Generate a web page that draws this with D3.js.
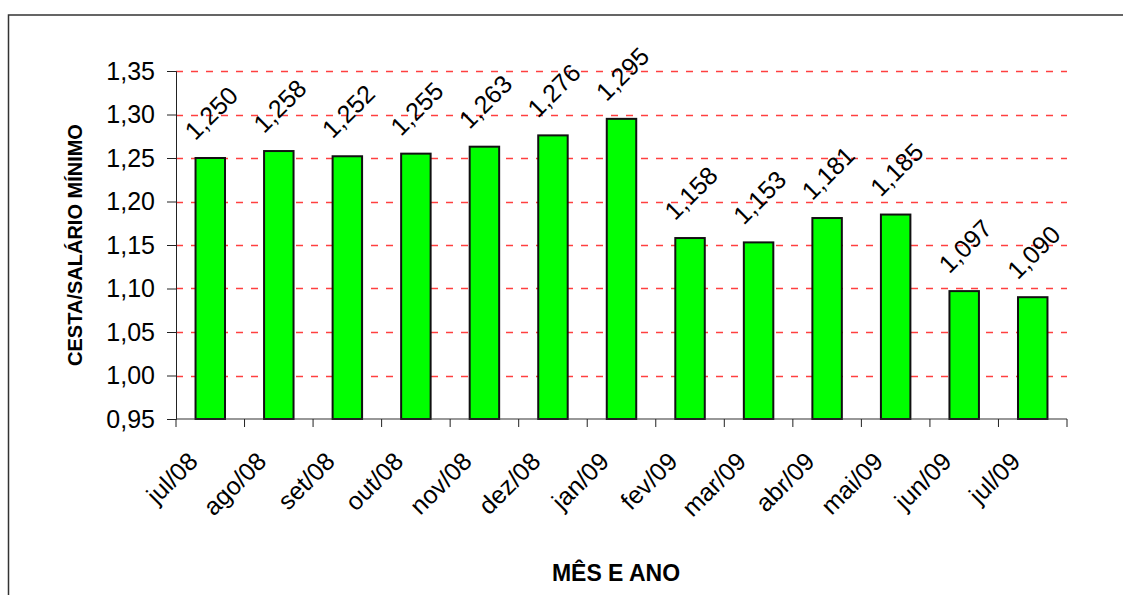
<!DOCTYPE html>
<html>
<head>
<meta charset="utf-8">
<script src="https://cdn.jsdelivr.net/npm/d3@7"></script>
<style>
  body { margin: 0; background: #fff; }
  text { font-family: "Liberation Sans", Arial, sans-serif; }
</style>
</head>
<body>
<div id="chart"></div>
<script>
// chart data
const months = ['jul/08', 'ago/08', 'set/08', 'out/08', 'nov/08', 'dez/08', 'jan/09',
  'fev/09', 'mar/09', 'abr/09', 'mai/09', 'jun/09', 'jul/09'];
const ratios = [1.250, 1.258, 1.252, 1.255, 1.263, 1.276, 1.295,
  1.158, 1.153, 1.181, 1.185, 1.097, 1.090];
const yTicks = [0.95, 1.00, 1.05, 1.10, 1.15, 1.20, 1.25, 1.30, 1.35];

const width = 1123;
const height = 595;
const margin = { top: 71, right: 56, bottom: 176, left: 176 };

const fmt = (v, d) => v.toFixed(d).replace('.', ',');

const svg = d3.select('#chart').append('svg')
  .attr('width', width)
  .attr('height', height);

// outer frame (right and bottom edges fall outside the picture)
svg.append('rect')
  .attr('x', 8.5).attr('y', 15)
  .attr('width', 1130).attr('height', 600)
  .attr('fill', 'none')
  .attr('stroke', '#333')
  .attr('stroke-width', 1.5);

const xScale = d3.scaleBand()
  .domain(months)
  .range([margin.left, width - margin.right]);

const yScale = d3.scaleLinear()
  .domain([0.95, 1.35])
  .range([height - margin.bottom, margin.top]);

const y0 = height - margin.bottom;

// dashed red gridlines
svg.append('g')
  .selectAll('line')
  .data(yTicks.slice(1))
  .enter()
  .append('line')
  .attr('x1', margin.left)
  .attr('x2', width - margin.right)
  .attr('y1', d => Math.round(yScale(d)) + 0.5)
  .attr('y2', d => Math.round(yScale(d)) + 0.5)
  .attr('stroke', '#ff4040')
  .attr('stroke-width', 1.3)
  .attr('stroke-dasharray', '7,8');

// bars
const barW = xScale.bandwidth() * 0.43;
svg.append('g')
  .selectAll('rect')
  .data(ratios)
  .enter()
  .append('rect')
  .attr('x', (d, i) => xScale(months[i]) + (xScale.bandwidth() - barW) / 2)
  .attr('y', d => yScale(d))
  .attr('width', barW)
  .attr('height', d => y0 - yScale(d))
  .attr('fill', '#00ff00')
  .attr('stroke', '#111')
  .attr('stroke-width', 2);

// value labels, rotated
svg.append('g')
  .selectAll('text')
  .data(ratios)
  .enter()
  .append('text')
  .attr('transform', (d, i) => {
    const cx = xScale(months[i]) + xScale.bandwidth() / 2 + 1;
    const cy = yScale(d) - 45;
    return `translate(${cx},${cy}) rotate(-45)`;
  })
  .attr('text-anchor', 'middle')
  .attr('dy', '0.35em')
  .attr('font-size', 25)
  .attr('fill', '#000')
  .text(d => fmt(d, 3));

// y axis
const yAxis = svg.append('g')
  .attr('transform', `translate(${margin.left}, 0)`)
  .call(d3.axisLeft(yScale).tickValues(yTicks).tickFormat(d => fmt(d, 2))
    .tickSize(9).tickPadding(12));
yAxis.selectAll('text').attr('font-size', 25).attr('fill', '#000')
  .style('font-family', '"Liberation Sans", Arial, sans-serif');
yAxis.select('.domain').attr('stroke', '#222');
yAxis.selectAll('.tick line').attr('stroke', '#222');

// x axis: ticks on band edges
const xAxis = svg.append('g')
  .attr('transform', `translate(0, ${y0})`);
xAxis.append('line')
  .attr('x1', margin.left).attr('x2', width - margin.right)
  .attr('y1', 0).attr('y2', 0)
  .attr('stroke', '#333').attr('stroke-width', 1.2);
const edges = months.map(m => xScale(m)).concat([width - margin.right]);
xAxis.selectAll('line.tk')
  .data(edges)
  .enter()
  .append('line')
  .attr('class', 'tk')
  .attr('x1', d => d).attr('x2', d => d)
  .attr('y1', 0).attr('y2', 8)
  .attr('stroke', '#222');
xAxis.selectAll('text')
  .data(months)
  .enter()
  .append('text')
  .attr('transform', d => `translate(${xScale(d) + xScale.bandwidth() / 2 - 11}, 44) rotate(-45)`)
  .attr('text-anchor', 'end')
  .attr('font-size', 25)
  .attr('fill', '#000')
  .text(d => d);

// axis titles
svg.append('text')
  .attr('transform', `translate(82, 245) rotate(-90)`)
  .attr('text-anchor', 'middle')
  .attr('font-size', 20)
  .attr('font-weight', 'bold')
  .text('CESTA/SALÁRIO MÍNIMO');

svg.append('text')
  .attr('x', 616)
  .attr('y', 581)
  .attr('text-anchor', 'middle')
  .attr('font-size', 23)
  .attr('font-weight', 'bold')
  .text('MÊS E ANO');
</script>
</body>
</html>
